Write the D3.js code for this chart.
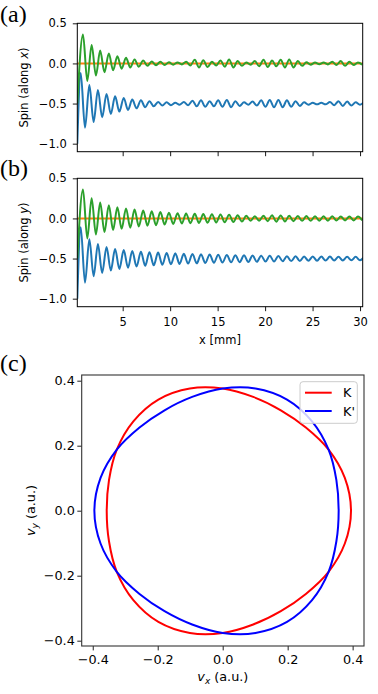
<!DOCTYPE html>
<html>
<head>
<meta charset="utf-8">
<script src="https://cdn.jsdelivr.net/npm/d3@7"></script>
<style>
  body { margin: 0; background: #fff; }
  svg { display: block; font-family: "DejaVu Sans", sans-serif; }
</style>
</head>
<body>
<div id="chart"></div>
<script>
// ---- data: panels (a) and (b), extrema of the oscillations ----
const spinTicksX = [5, 10, 15, 20, 25, 30];
const spinTicksY = [-1.0, -0.5, 0.0, 0.5];

// x [mm] of green extrema (start, then peak/trough alternating)
const greenX = [0.22,
  0.82, 1.27, 1.73, 2.18, 2.63, 3.08, 3.54, 3.99, 4.44, 4.89,
  5.35, 5.80, 6.25, 6.70, 7.16, 7.61, 8.06, 8.51, 8.97, 9.42,
  9.87, 10.32, 10.78, 11.23, 11.68, 12.13, 12.59, 13.04, 13.49, 13.94,
  14.40, 14.85, 15.30, 15.75, 16.21, 16.66, 17.11, 17.56, 18.02, 18.47,
  18.92, 19.37, 19.83, 20.28, 20.73, 21.18, 21.64, 22.09, 22.54, 22.99,
  23.45, 23.90, 24.35, 24.80, 25.26, 25.71, 26.16, 26.61, 27.07, 27.52,
  27.97, 28.42, 28.88, 29.33, 29.78, 30.23];

// x [mm] of blue extrema
const blueX = [0.22,
  0.58, 1.03, 1.49, 1.94, 2.39, 2.84, 3.30, 3.75, 4.20, 4.65,
  5.11, 5.56, 6.01, 6.46, 6.92, 7.37, 7.82, 8.27, 8.73, 9.18,
  9.63, 10.08, 10.54, 10.99, 11.44, 11.89, 12.35, 12.80, 13.25, 13.70,
  14.16, 14.61, 15.06, 15.51, 15.97, 16.42, 16.87, 17.32, 17.78, 18.23,
  18.68, 19.13, 19.59, 20.04, 20.49, 20.94, 21.40, 21.85, 22.30, 22.75,
  23.21, 23.66, 24.11, 24.56, 25.02, 25.47, 25.92, 26.37, 26.83, 27.28,
  27.73, 28.18, 28.64, 29.09, 29.54, 29.99, 30.44];

const orangeX = [0.22, 30.28];
const orangeY = [0, 0];

// panel (a): spin along x
const greenA = [-0.5,
  0.36, -0.22, 0.23, -0.15, 0.16, -0.11, 0.125, -0.085, 0.09, -0.065,
  0.07, -0.05, 0.05, -0.04, 0.035, -0.03, 0.025, -0.022, 0.02, -0.02,
  0.015, -0.015, 0.012, -0.012, 0.02, -0.025, 0.045, -0.05, 0.04, -0.045,
  0.02, -0.025, 0.035, -0.04, 0.05, -0.05, 0.03, -0.03, 0.012, -0.015,
  0.03, -0.035, 0.045, -0.045, 0.035, -0.035, 0.045, -0.05, 0.05, -0.05,
  0.03, -0.03, 0.015, -0.015, 0.01, -0.01, 0.012, -0.012, 0.02, -0.02,
  0.03, -0.03, 0.02, -0.02, 0.012, -0.015];

const blueA = [-1.0,
  -0.12, -0.80, -0.27, -0.73, -0.33, -0.67, -0.38, -0.63, -0.41, -0.60,
  -0.43, -0.58, -0.45, -0.56, -0.46, -0.545, -0.47, -0.535, -0.48, -0.525,
  -0.485, -0.52, -0.49, -0.515, -0.48, -0.52, -0.465, -0.535, -0.46, -0.54,
  -0.47, -0.535, -0.46, -0.54, -0.455, -0.545, -0.47, -0.53, -0.485, -0.515,
  -0.475, -0.525, -0.46, -0.54, -0.455, -0.545, -0.455, -0.545, -0.46, -0.54,
  -0.47, -0.53, -0.485, -0.515, -0.49, -0.51, -0.49, -0.51, -0.48, -0.52,
  -0.47, -0.53, -0.475, -0.525, -0.485, -0.515, -0.48];

// panel (b): spin along y
const greenB = [-0.5,
  0.36, -0.25, 0.25, -0.20, 0.20, -0.17, 0.165, -0.145, 0.14, -0.13,
  0.125, -0.115, 0.11, -0.10, 0.10, -0.09, 0.09, -0.085, 0.08, -0.077,
  0.072, -0.07, 0.066, -0.064, 0.062, -0.06, 0.058, -0.056, 0.055, -0.053,
  0.052, -0.05, 0.05, -0.048, 0.046, -0.045, 0.04, -0.038, 0.032, -0.03,
  0.028, -0.028, 0.034, -0.034, 0.04, -0.04, 0.038, -0.038, 0.034, -0.034,
  0.03, -0.03, 0.03, -0.03, 0.028, -0.028, 0.028, -0.028, 0.026, -0.026,
  0.025, -0.025, 0.025, -0.025, 0.024, -0.024];

const blueB = [-1.0,
  -0.11, -0.80, -0.26, -0.72, -0.32, -0.68, -0.355, -0.65, -0.38, -0.63,
  -0.395, -0.615, -0.405, -0.60, -0.415, -0.59, -0.42, -0.585, -0.425, -0.578,
  -0.43, -0.572, -0.435, -0.567, -0.44, -0.563, -0.443, -0.56, -0.447, -0.556,
  -0.45, -0.553, -0.453, -0.55, -0.455, -0.547, -0.458, -0.545, -0.46, -0.543,
  -0.462, -0.54, -0.464, -0.538, -0.466, -0.536, -0.468, -0.534, -0.47, -0.532,
  -0.472, -0.53, -0.473, -0.528, -0.474, -0.527, -0.475, -0.525, -0.476, -0.524,
  -0.477, -0.523, -0.478, -0.522, -0.479, -0.521, -0.48];

// ---- data: panel (c), velocity contours ----
const vTicks = [-0.4, -0.2, 0.0, 0.2, 0.4];
const kVx = [0.395, 0.376, 0.326, 0.256, 0.179, 0.094, 0.000, -0.101, -0.198, -0.275, -0.326, -0.350,
             -0.357, -0.350, -0.326, -0.275, -0.198, -0.101, 0.000, 0.094, 0.179, 0.256, 0.326, 0.376];
const kVy = [0.000, 0.101, 0.188, 0.256, 0.309, 0.350, 0.376, 0.376, 0.342, 0.275, 0.188, 0.094,
             0.000, -0.094, -0.188, -0.275, -0.342, -0.376, -0.376, -0.350, -0.309, -0.256, -0.188, -0.101];
const kpVx = [-0.395, -0.376, -0.326, -0.256, -0.179, -0.094, 0.000, 0.101, 0.198, 0.275, 0.326, 0.350,
              0.357, 0.350, 0.326, 0.275, 0.198, 0.101, 0.000, -0.094, -0.179, -0.256, -0.326, -0.376];
const kpVy = [0.000, 0.101, 0.188, 0.256, 0.309, 0.350, 0.376, 0.376, 0.342, 0.275, 0.188, 0.094,
              0.000, -0.094, -0.188, -0.275, -0.342, -0.376, -0.376, -0.350, -0.309, -0.256, -0.188, -0.101];
const legendNames = ["K", "K'"];

const C_BLUE = "#1f77b4", C_ORANGE = "#ff7f0e", C_GREEN = "#2ca02c";

const svg = d3.select("#chart")
  .append("svg")
  .attr("width", 378)
  .attr("height", 694);

function panelLabel(text, x, y) {
  svg.append("text")
    .attr("x", x).attr("y", y)
    .style("font-family", "'Liberation Serif', serif")
    .style("font-size", "24px")
    .text(text);
}

function spinPanel({ id, top, greenY, blueY, axisVar, showXLabels }) {
  const left = 77.3, right = 362.7, h = 128.4;
  const x = d3.scaleLinear().domain([0.22, 30.28]).range([left, right]);
  const y = d3.scaleLinear().domain([-1.1, 0.5]).range([top + h, top]);

  svg.append("clipPath").attr("id", id)
    .append("rect").attr("x", left).attr("y", top).attr("width", right - left).attr("height", h);

  const line = d3.line().x((d) => x(d[0])).y((d) => y(d[1])).curve(d3.curveMonotoneX);
  const linesG = svg.append("g").attr("clip-path", `url(#${id})`);

  [[blueX, blueY, C_BLUE], [orangeX, orangeY, C_ORANGE], [greenX, greenY, C_GREEN]]
    .forEach(([xs, ys, color]) => {
      linesG.append("path")
        .attr("d", line(d3.zip(xs, ys)))
        .attr("fill", "none")
        .attr("stroke", color)
        .attr("stroke-width", 2)
        .attr("stroke-linejoin", "round");
    });

  const xAxis = d3.axisBottom(x).tickValues(spinTicksX).tickSize(4.5).tickPadding(6.5);
  if (!showXLabels) xAxis.tickFormat("");
  const xAxisG = svg.append("g").attr("transform", `translate(0,${top + h})`).call(xAxis);

  const yAxisG = svg.append("g").attr("transform", `translate(${left},0)`)
    .call(d3.axisLeft(y).tickValues(spinTicksY).tickFormat(d3.format(".1f")).tickSize(4.5).tickPadding(6));

  [xAxisG, yAxisG].forEach((g) => {
    g.select(".domain").remove();
    g.selectAll(".tick line").attr("stroke", "#000").attr("stroke-width", 0.9);
    g.selectAll(".tick text").attr("fill", "#000").style("font-size", "11.5px")
      .style("font-family", "'DejaVu Sans', sans-serif");
  });

  svg.append("rect")
    .attr("x", left).attr("y", top).attr("width", right - left).attr("height", h)
    .attr("fill", "none").attr("stroke", "#000").attr("stroke-width", 1);

  // y label
  const yl = svg.append("text")
    .attr("transform", `translate(27.8,${top + h / 2}) rotate(-90)`)
    .attr("text-anchor", "middle")
    .style("font-size", "11.5px");
  yl.append("tspan").text("Spin (along ");
  yl.append("tspan").style("font-style", "italic").text(axisVar);
  yl.append("tspan").text(")");

  if (showXLabels) {
    svg.append("text")
      .attr("x", (left + right) / 2).attr("y", 343.5)
      .attr("text-anchor", "middle")
      .style("font-size", "11.5px")
      .text("x [mm]");
  }
}

panelLabel("(a)", 0, 21.5);
spinPanel({ id: "clipA", top: 23.3, greenY: greenA, blueY: blueA, axisVar: "x", showXLabels: false });
panelLabel("(b)", 0, 176);
spinPanel({ id: "clipB", top: 178.3, greenY: greenB, blueY: blueB, axisVar: "y", showXLabels: true });

// ---- panel (c) ----
panelLabel("(c)", 0, 370.5);
{
  const left = 81.7, right = 364, top = 375, bottom = 646;
  const x = d3.scaleLinear().domain([-0.434, 0.435]).range([left, right]);
  const y = d3.scaleLinear().domain([-0.4163, 0.4175]).range([bottom, top]);

  const loop = d3.line().x((d) => x(d[0])).y((d) => y(d[1])).curve(d3.curveCatmullRomClosed.alpha(0.5));
  const colors = ["#ff0000", "#0000ff"];
  [[kVx, kVy], [kpVx, kpVy]].forEach(([xs, ys], i) => {
    svg.append("path")
      .attr("d", loop(d3.zip(xs, ys)))
      .attr("fill", "none")
      .attr("stroke", colors[i])
      .attr("stroke-width", 2);
  });

  const xAxisG = svg.append("g").attr("transform", `translate(0,${bottom})`)
    .call(d3.axisBottom(x).tickValues(vTicks).tickFormat(d3.format(".1f")).tickSize(4.4).tickPadding(5));
  const yAxisG = svg.append("g").attr("transform", `translate(${left},0)`)
    .call(d3.axisLeft(y).tickValues(vTicks).tickFormat(d3.format(".1f")).tickSize(4.4).tickPadding(2.5));
  [xAxisG, yAxisG].forEach((g) => {
    g.select(".domain").remove();
    g.selectAll(".tick line").attr("stroke", "#222").attr("stroke-width", 1);
    g.selectAll(".tick text").attr("fill", "#000").style("font-size", "12.8px")
      .style("font-family", "'DejaVu Sans', sans-serif");
  });

  svg.append("rect")
    .attr("x", left).attr("y", top).attr("width", right - left).attr("height", bottom - top)
    .attr("fill", "none").attr("stroke", "#333").attr("stroke-width", 1.1);

  // axis labels
  const xl = svg.append("text")
    .attr("x", (left + right) / 2).attr("y", 681)
    .attr("text-anchor", "middle")
    .style("font-size", "12.8px");
  xl.append("tspan").style("font-style", "italic").text("v");
  xl.append("tspan").style("font-style", "italic").style("font-size", "9px").attr("dy", 3).text("x");
  xl.append("tspan").attr("dy", -3).text(" (a.u.)");

  const yl = svg.append("text")
    .attr("transform", `translate(35,${(top + bottom) / 2}) rotate(-90)`)
    .attr("text-anchor", "middle")
    .style("font-size", "12.8px");
  yl.append("tspan").style("font-style", "italic").text("v");
  yl.append("tspan").style("font-style", "italic").style("font-size", "9px").attr("dy", 3).text("y");
  yl.append("tspan").attr("dy", -3).text(" (a.u.)");

  // legend
  const lg = svg.append("g").attr("transform", "translate(300,381.7)");
  lg.append("rect")
    .attr("width", 57.3).attr("height", 41.6).attr("rx", 3)
    .attr("fill", "#fff").attr("fill-opacity", 0.8)
    .attr("stroke", "#ccc").attr("stroke-width", 1);
  legendNames.forEach((name, i) => {
    const ly = 11 + i * 18.3;
    lg.append("line")
      .attr("x1", 5).attr("x2", 31.7).attr("y1", ly).attr("y2", ly)
      .attr("stroke", colors[i]).attr("stroke-width", 2);
    lg.append("text")
      .attr("x", 43).attr("y", ly + 4.6)
      .style("font-size", "12.8px")
      .text(name);
  });
}
</script>
</body>
</html>
